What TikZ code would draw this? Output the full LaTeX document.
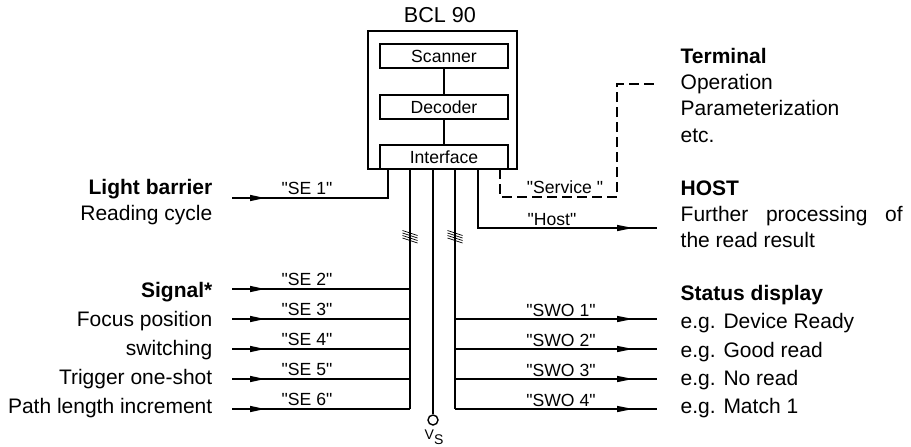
\documentclass[tikz,border=0pt]{standalone}
\usepackage{fontspec}
\setmainfont{Liberation Sans}[Ligatures=TeXOff]
\usetikzlibrary{decorations.markings}
\usetikzlibrary{arrows.meta}
\usetikzlibrary{calc}

\begin{document}
\begin{tikzpicture}[x=0.5pt,y=-0.5pt,line width=0.7pt,
    blk/.style={draw,line width=0.9pt,minimum width=64pt,minimum height=12pt,inner sep=0pt,font=\fontsize{8.8}{10}\selectfont},
    txt/.style={inner sep=0pt,font=\fontsize{10.5}{12}\selectfont},
    btxt/.style={inner sep=0pt,font=\fontsize{10.5}{12}\selectfont\bfseries},
    lbl/.style={inner sep=0pt,anchor=base,font=\fontsize{8.8}{10}\selectfont},
    inarr/.style={decoration={markings,
        mark=at position 16.5pt with {\arrow{Triangle[length=7.5pt,width=3pt]}}},postaction={decorate}},
    outarr/.style={decoration={markings,
        mark=at position -12pt with {\arrow{Triangle[length=8pt,width=3pt]}}},postaction={decorate}}]

    \useasboundingbox (0,0) rectangle (911,446);

    % the scanner itself
    \node[draw,line width=0.9pt,minimum width=74.5pt,minimum height=69pt,inner sep=0pt] (bcl) at (442.5,100) {};
    \node[lbl,font=\fontsize{10.8}{12}\selectfont] (title) at (440,22) {BCL 90};
    \node[blk] (scan) at (444,56) {Scanner};
    \node[blk] (dec) at (444,107) {Decoder};
    \node[blk] (ifc) at (444,157) {Interface};
    \draw (scan) -- (dec);
    \draw (dec) -- (ifc);

    % taps at the bottom of the interface
    \foreach \n/\x in {t1/388,t2/410,t3/433,t4/455,t5/478,t6/500}
        \coordinate (\n) at (\x,169);

    % inputs
    \node[btxt,anchor=base east] (lb) at (213,194) {Light barrier};
    \node[txt,anchor=base east] (rc) at (213,220) {Reading cycle};
    \coordinate (in1) at (232,198);
    \draw[inarr] (in1) -- (in1 -| t1) -- (t1);
    \node[lbl] (se1) at (307,194) {"SE 1"};

    \node[btxt,anchor=base east] (sg) at (213,297) {Signal*};
    \node[txt,anchor=base east] (fp) at (213,326) {Focus position};
    \node[txt,anchor=base east] (sw) at (213,355) {switching};
    \node[txt,anchor=base east] (tr) at (213,384) {Trigger one-shot};
    \node[txt,anchor=base east] (pl) at (213,413) {Path length increment};
    \foreach \i/\y in {2/289,3/319,4/349,5/379,6/409} {
        \coordinate (in\i) at (232,\y);
        \draw[inarr] (in\i) -- (in\i -| t2);
        \node[lbl] (se\i) at (307,\y-4) {"SE \i"};
    }
    \draw (t2) -- (t2 |- in6);

    % supply
    \node[circle,draw,minimum size=5pt,inner sep=0pt] (vs) at (433,420) {};
    \draw (t3) -- (vs);
    \node[inner sep=0pt,anchor=base west,font=\fontsize{7}{8}\selectfont] (vsl) at (424,439) {V\raisebox{-2.5pt}{S}};

    % switching outputs
    \node[btxt,anchor=base west] (sd) at (680,300) {Status display};
    \node[txt,anchor=base west] (o1) at (680,328.5) {e.g. Device Ready};
    \node[txt,anchor=base west] (o2) at (680,357) {e.g. Good read};
    \node[txt,anchor=base west] (o3) at (680,385) {e.g. No read};
    \node[txt,anchor=base west] (o4) at (680,413.5) {e.g. Match 1};
    \foreach \i/\y in {1/319,2/349,3/379,4/409} {
        \coordinate (out\i) at (657,\y);
        \draw[outarr] (out\i -| t4) -- (out\i);
        \node[lbl] (swo\i) at (561,\y-2.5) {"SWO \i"};
    }
    \draw (t4) -- (t4 |- out4);

    % bus marks
    \coordinate (h1) at (410,236.5);
    \coordinate (h2) at (455,236.5);
    \foreach \h in {h1,h2} {
        \foreach \k in {0,...,3}
            \draw[line width=0.35pt] ($(\h)+(-7.5,-6+2.5*\k)$) -- ++(15,5);
    }

    % host
    \node[btxt,anchor=base west] (hs) at (680,195) {HOST};
    \node[txt,anchor=base west] (hp) at (680,221) {\makebox[111pt][s]{Further processing of}};
    \node[txt,anchor=base west] (hr) at (680,247) {the read result};
    \coordinate (hostout) at (657,228);
    \draw[outarr] (t5) |- (hostout);
    \node[lbl] (hl) at (552,225) {"Host"};

    % service / terminal
    \node[btxt,anchor=base west] (tm) at (680,63) {Terminal};
    \node[txt,anchor=base west] (op) at (680,89) {Operation};
    \node[txt,anchor=base west] (pa) at (680,115.5) {Parameterization};
    \node[txt,anchor=base west] (etc) at (680,142) {etc.};
    \coordinate (svc) at (617,197);
    \coordinate (term) at (655,84);
    \draw[dash pattern=on 5pt off 2.5pt] (t6) |- (svc) -- (svc |- term) -- (term);
    \node[lbl] (sl) at (565,193) {"Service "};
\end{tikzpicture}
\end{document}
